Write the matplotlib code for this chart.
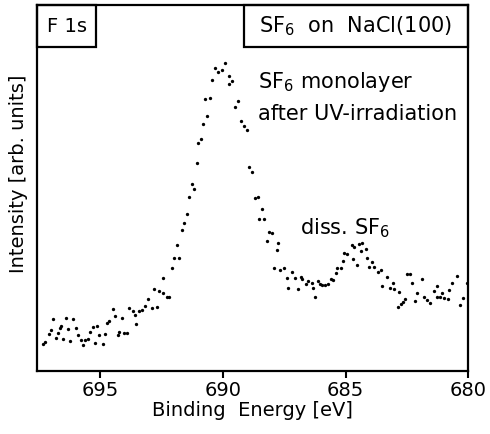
import matplotlib
matplotlib.use("Agg")
import matplotlib.pyplot as plt
from matplotlib.patches import Rectangle

# F 1s spectrum, binding energy (eV) and intensity (arb. units)
energy = [697.32, 697.24, 697.10, 696.99, 696.91, 696.80, 696.72, 696.64, 696.59, 696.50,
          696.40, 696.29, 696.23, 696.12, 695.99, 695.91, 695.80, 695.69, 695.61, 695.51,
          695.42, 695.31, 695.20, 695.12, 695.04, 694.90, 694.82, 694.71, 694.63, 694.49,
          694.41, 694.28, 694.22, 694.11, 694.03, 693.92, 693.82, 693.65, 693.57, 693.52,
          693.43, 693.31, 693.19, 693.04, 692.89, 692.80, 692.69, 692.59, 692.46, 692.43,
          692.29, 692.19, 692.08, 692.00, 691.89, 691.79, 691.68, 691.60, 691.48, 691.37,
          691.27, 691.18, 691.07, 691.02, 690.91, 690.80, 690.73, 690.64, 690.53, 690.46,
          690.33, 690.19, 690.05, 689.92, 689.77, 689.74, 689.62, 689.51, 689.40, 689.28,
          689.14, 689.02, 688.93, 688.82, 688.68, 688.56, 688.52, 688.42, 688.32, 688.22,
          688.13, 688.02, 687.91, 687.79, 687.75, 687.68, 687.50, 687.41, 687.34, 687.19,
          687.05, 686.93, 686.82, 686.77, 686.63, 686.53, 686.39, 686.32, 686.25, 686.14,
          686.05, 685.96, 685.85, 685.71, 685.61, 685.51, 685.40, 685.34, 685.21, 685.10,
          685.07, 684.96, 684.75, 684.72, 684.66, 684.55, 684.47, 684.37, 684.34, 684.18,
          684.12, 684.07, 683.93, 683.84, 683.70, 683.58, 683.54, 683.33, 683.20, 683.09,
          683.02, 682.87, 682.82, 682.76, 682.68, 682.60, 682.49, 682.38, 682.31, 682.19,
          682.09, 681.91, 681.81, 681.68, 681.57, 681.41, 681.30, 681.27, 681.16, 681.09,
          681.00, 680.82, 680.78, 680.68, 680.46, 680.35, 680.21, 680.07]
intensity = [27, 29, 37, 41, 52, 33, 38, 43, 45, 32,
             53, 42, 30, 52, 43, 36, 31, 26, 31, 32,
             39, 44, 28, 45, 36, 27, 37, 48, 50, 62,
             55, 36, 39, 53, 38, 38, 63, 60, 56, 47,
             60, 61, 65, 72, 63, 82, 64, 80, 93, 78,
             74, 74, 103, 113, 126, 113, 141, 148, 157, 174,
             187, 182, 208, 228, 232, 247, 272, 255, 273, 291,
             303, 299, 301, 308, 287, 295, 290, 264, 270, 250,
             245, 241, 204, 199, 173, 174, 152, 162, 152, 130,
             139, 138, 103, 121, 128, 101, 103, 93, 83, 99,
             93, 82, 94, 92, 87, 90, 88, 83, 74, 90,
             87, 86, 86, 87, 92, 91, 98, 103, 103, 110,
             118, 117, 126, 112, 124, 106, 127, 120, 128, 122,
             113, 104, 109, 104, 99, 101, 85, 94, 83, 88,
             82, 64, 79, 67, 69, 72, 97, 97, 88, 70,
             78, 92, 74, 71, 68, 80, 74, 85, 74, 78,
             73, 72, 81, 88, 95, 66, 73, 88]

ticks = [695, 690, 685, 680]
fs = 14
fs_note = 15

fig = plt.figure(figsize=(4.9, 4.34), dpi=100)
ax = fig.add_axes([0.0761, 0.1452, 0.880, 0.8433])

ax.plot(energy, intensity, "o", color="black", markersize=2.4, markeredgewidth=0)

ax.set_xlim(697.56, 680)
ax.set_ylim(0, 366)
ax.set_xticks(ticks)
ax.set_xticklabels([str(t) for t in ticks])
ax.tick_params(axis="x", direction="out", length=5, width=1.5, labelsize=fs, pad=2)
ax.tick_params(axis="y", left=False, labelleft=False)
for s in ax.spines.values():
    s.set_linewidth(1.6)

ax.set_xlabel("Binding  Energy [eV]", fontsize=fs, labelpad=1)
ax.set_ylabel("Intensity [arb. units]", fontsize=fs)
ax.yaxis.set_label_coords(-0.022, 0.54)

# label boxes along the top edge
ax.add_patch(Rectangle((0, 0.885), 0.136, 0.115, transform=ax.transAxes,
                       fill=False, lw=1.6, clip_on=False))
ax.add_patch(Rectangle((0.479, 0.885), 0.521, 0.115, transform=ax.transAxes,
                       fill=False, lw=1.6, clip_on=False))
ax.text(0.068, 0.942, "F 1s", transform=ax.transAxes, fontsize=fs,
        ha="center", va="center")
ax.text(0.739, 0.942, "SF$_6$  on  NaCl(100)", transform=ax.transAxes, fontsize=fs_note,
        ha="center", va="center")

ax.text(0.512, 0.79, "SF$_6$ monolayer", transform=ax.transAxes, fontsize=fs_note,
        ha="left", va="center")
ax.text(0.512, 0.702, "after UV-irradiation", transform=ax.transAxes, fontsize=fs_note,
        ha="left", va="center", clip_on=True)
ax.text(0.609, 0.39, "diss. SF$_6$", transform=ax.transAxes, fontsize=fs_note,
        ha="left", va="center")

fig.savefig("out.png", dpi=100)
